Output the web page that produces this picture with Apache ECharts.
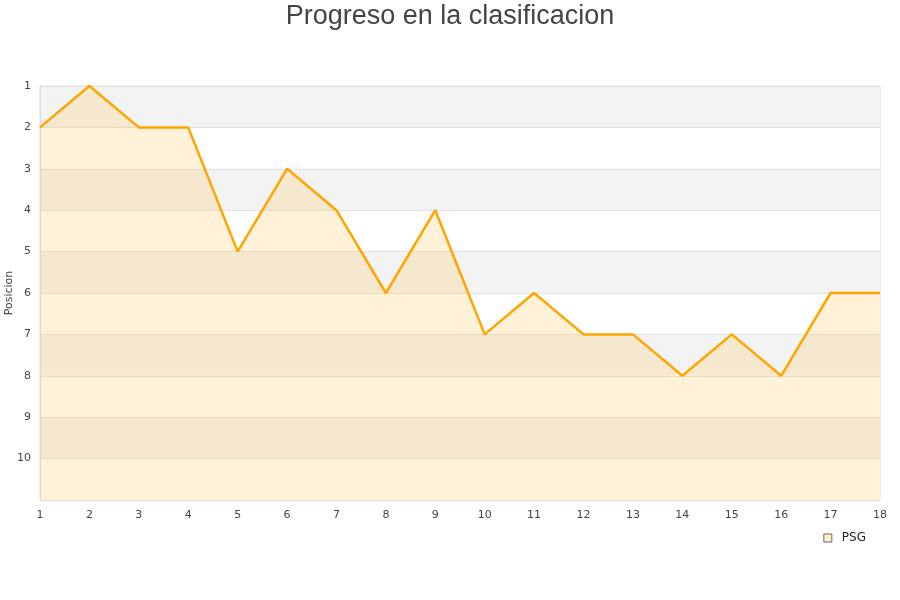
<!DOCTYPE html>
<html>
<head>
<meta charset="utf-8">
<script src="https://cdn.jsdelivr.net/npm/echarts@6/dist/echarts.min.js"></script>
<style>html,body{margin:0;padding:0;background:#fff}#c{width:900px;height:600px}</style>
</head>
<body>
<div id="c"></div>
<script>
const jornadas = ['1','2','3','4','5','6','7','8','9','10','11','12','13','14','15','16','17','18'];
const psg = [2,1,2,2,5,3,4,6,4,7,6,7,7,8,7,8,6,6];
const chart = echarts.init(document.getElementById('c'));
chart.setOption({
  animation: false,
  title: {text: 'Progreso en la clasificacion', left: 'center', top: -2,
    textStyle: {fontSize: 27, fontWeight: 'normal', color: '#444', fontFamily: 'Liberation Sans'}},
  grid: {left: 40, right: 20, top: 86, bottom: 100, show: true, borderColor: '#ddd', borderWidth: 1,
    containLabel: false, outerBoundsMode: 'none'},
  legend: {right: 29, top: 527, itemWidth: 8, itemHeight: 8, icon: 'rect',
    textStyle: {fontSize: 12, color: '#222', fontFamily: 'DejaVu Sans', padding: [0, 0, 0, 5]},
    data: [{name: 'PSG', itemStyle: {color: '#ffefce', borderColor: '#666', borderWidth: 1}}]},
  xAxis: {type: 'category', data: jornadas, boundaryGap: false,
    axisLine: {lineStyle: {color: '#ddd'}}, axisTick: {show: false},
    axisLabel: {color: '#444', fontSize: 11, margin: 10, fontFamily: 'DejaVu Sans'},
    splitLine: {show: false}},
  yAxis: {type: 'value', inverse: true, min: 1, max: 11, interval: 1,
    name: 'Posicion', nameLocation: 'middle', nameGap: 25, nameRotate: 90, nameMoveOverlap: false,
    nameTextStyle: {fontSize: 11, color: '#444', fontFamily: 'DejaVu Sans'},
    axisLine: {show: true, lineStyle: {color: '#ddd'}}, axisTick: {show: false},
    axisLabel: {color: '#444', fontSize: 11, margin: 9, fontFamily: 'DejaVu Sans',
      formatter: v => v === 11 ? '' : v},
    splitLine: {show: true, lineStyle: {color: '#e2e2e2'}},
    splitArea: {show: true, areaStyle: {color: ['#f3f3f3', '#ffffff']}}},
  series: [{name: 'PSG', type: 'line', data: psg, showSymbol: false, symbol: 'none',
    lineStyle: {color: '#ffa500', width: 2.5},
    itemStyle: {color: '#ffa500'},
    areaStyle: {color: 'rgba(255,185,50,0.27)', origin: 'end'}}]
});
</script>
</body>
</html>
